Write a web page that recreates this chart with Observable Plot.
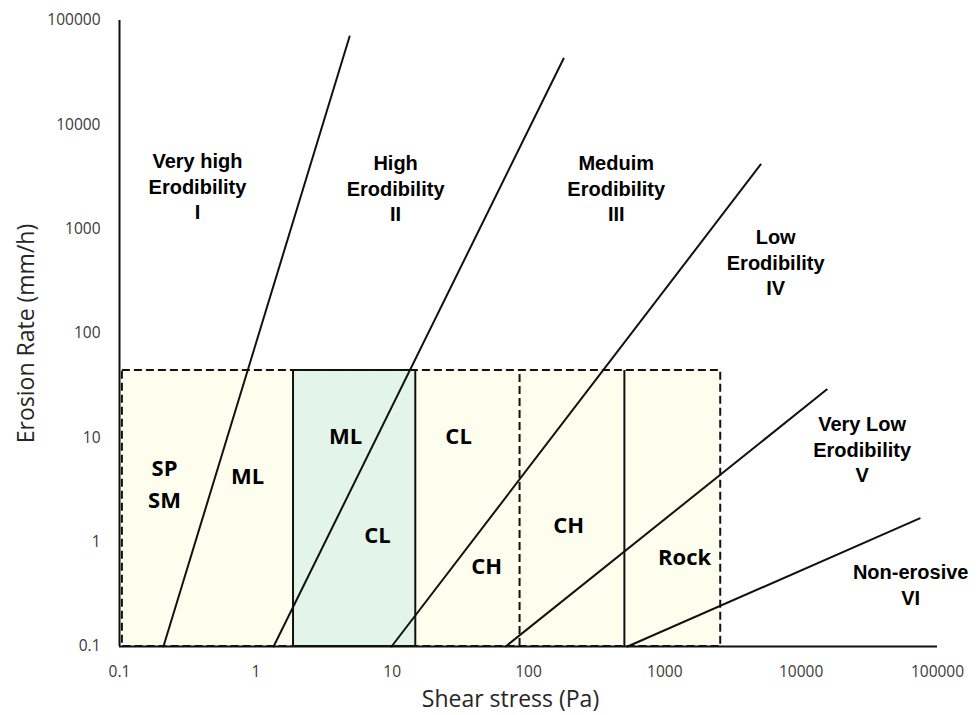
<!DOCTYPE html>
<html><head><meta charset="utf-8">
<script src="https://cdn.jsdelivr.net/npm/d3@7"></script>
<script src="https://cdn.jsdelivr.net/npm/@observablehq/plot@0.6"></script>
<style>body{margin:0;background:#fff}</style>
</head><body><div id="chart"></div>
<script>
// Axis ticks
const xTicks = [0.1, 1, 10, 100, 1000, 10000, 100000];
const xTickLabels = ["0.1", "1", "10", "100", "1000", "10000", "100000"];
const yTicks = [0.1, 1, 10, 100, 1000, 10000, 100000];
const yTickLabels = ["0.1", "1", "10", "100", "1000", "10000", "100000"];

// Erodibility category boundary lines: shear stress (Pa) vs erosion rate (mm/h)
const lineNames = ["I-II", "II-III", "III-IV", "IV-V", "V-VI"];
const lineStartStress = [0.21, 1.35, 9.9, 68, 533];
const lineStartRate = [0.1, 0.1, 0.1, 0.1, 0.1];
const lineEndStress = [4.87, 181, 5050, 15400, 74000];
const lineEndRate = [70300, 43200, 4170, 29, 1.69];

// Soil zones (shear stress ranges), rate range 0.1 - 44
const zoneNames = ["SP-SM-ML", "ML-CL", "CL-CH", "CH", "Rock"];
const zoneFrom = [0.105, 1.89, 14.9, 86, 505];
const zoneTo = [1.89, 14.9, 86, 505, 2570];
const zoneKind = ["sand", "silt", "clay", "clay", "rock"];
const zoneRateMin = 0.1;
const zoneRateMax = 44.2;

// Erodibility class labels
const classLabels = ["Very high\nErodibility\nI", "High\nErodibility\nII", "Meduim\nErodibility\nIII", "Low\nErodibility\nIV", "Very Low\nErodibility\nV", "Non-erosive\nVI"];
const classLabelStress = [0.373, 10.6, 440, 6500, 28000, 63600];
const classLabelRate = [2620, 2510, 2510, 490, 7.9, 0.397];

// Soil type labels
const soilLabels = ["SP\nSM", "ML", "ML", "CL", "CL", "CH", "CH", "Rock"];
const soilLabelStress = [0.214, 0.87, 4.55, 7.8, 30.7, 49.3, 197, 1397];
const soilLabelRate = [3.81, 4.55, 11.0, 1.24, 11.0, 0.625, 1.545, 0.762];

const lineData = lineNames.flatMap((n, i) => [
  {name: n, x: lineStartStress[i], y: lineStartRate[i]},
  {name: n, x: lineEndStress[i], y: lineEndRate[i]}
]);
const zones = zoneNames.map((n, i) => ({name: n, x1: zoneFrom[i], x2: zoneTo[i], y1: zoneRateMin, y2: zoneRateMax, kind: zoneKind[i]}));
const outer = [{x1: zoneFrom[0], x2: zoneTo[zoneTo.length - 1], y1: zoneRateMin, y2: zoneRateMax}];
const greenZone = zones.filter(d => d.kind === "silt");
const dashedDividers = [{x: zoneFrom[3], y1: zoneRateMin, y2: zoneRateMax}];
const solidDividers = [{x: zoneFrom[4], y1: zoneRateMin, y2: zoneRateMax}];
const classData = classLabels.map((t, i) => ({t, x: classLabelStress[i], y: classLabelRate[i]}));
const soilData = soilLabels.map((t, i) => ({t, x: soilLabelStress[i], y: soilLabelRate[i]}));

const ink = "#111";
const chart = Plot.plot({
  width: 980,
  height: 715,
  marginLeft: 119,
  marginRight: 43,
  marginTop: 20,
  marginBottom: 69,
  style: {fontFamily: "'Open Sans', sans-serif", fontSize: "15.5px", background: "#fff"},
  x: {type: "log", domain: [0.1, 100000], axis: null},
  y: {type: "log", domain: [0.1, 100000], axis: null},
  marks: [
    Plot.rect(zones, {x1: "x1", x2: "x2", y1: "y1", y2: "y2", fill: d => d.kind === "silt" ? "#E3F4EA" : "#FEFEEF"}),
    Plot.ruleX([0.1], {stroke: ink, strokeWidth: 2}),
    Plot.ruleY([0.1], {stroke: ink, strokeWidth: 2}),
    Plot.rect(outer, {x1: "x1", x2: "x2", y1: "y1", y2: "y2", fill: "none", stroke: ink, strokeWidth: 2, strokeDasharray: "8,4"}),
    Plot.rect(greenZone, {x1: "x1", x2: "x2", y1: "y1", y2: "y2", fill: "none", stroke: ink, strokeWidth: 2}),
    Plot.ruleX(dashedDividers, {x: "x", y1: "y1", y2: "y2", stroke: ink, strokeWidth: 2, strokeDasharray: "8,4"}),
    Plot.ruleX(solidDividers, {x: "x", y1: "y1", y2: "y2", stroke: ink, strokeWidth: 2}),
    Plot.line(lineData, {x: "x", y: "y", z: "name", stroke: ink, strokeWidth: 2}),
    Plot.axisX({ticks: xTicks, tickFormat: d => xTickLabels[xTicks.indexOf(d)], tickSize: 0, tickPadding: 19, label: null, fill: "#3a3a3a", fontSize: 15.5}),
    Plot.axisY({ticks: yTicks, tickFormat: d => yTickLabels[yTicks.indexOf(d)], tickSize: 0, tickPadding: 19, label: null, fill: "#3a3a3a", fontSize: 15.5}),
    Plot.text(classData, {x: "x", y: "y", text: "t", fontFamily: "'Liberation Sans', Arial, sans-serif", fontWeight: "bold", fontSize: 20, lineHeight: 1.28, fill: "#000"}),
    Plot.text(soilData, {x: "x", y: "y", text: "t", fontFamily: "'Open Sans', sans-serif", fontWeight: "bold", fontSize: 22, lineHeight: 1.45, fill: "#000"}),
    Plot.text(["Erosion Rate (mm/h)"], {text: d => d, frameAnchor: "left", textAnchor: "middle", lineAnchor: "middle", rotate: -90, dx: -93, fontSize: 23, fill: "#262626"}),
    Plot.text(["Shear stress (Pa)"], {text: d => d, frameAnchor: "bottom", textAnchor: "middle", lineAnchor: "middle", dy: 53, dx: -18, fontSize: 23, fill: "#262626"})
  ]
});
document.getElementById("chart").append(chart);
</script>
</body></html>
